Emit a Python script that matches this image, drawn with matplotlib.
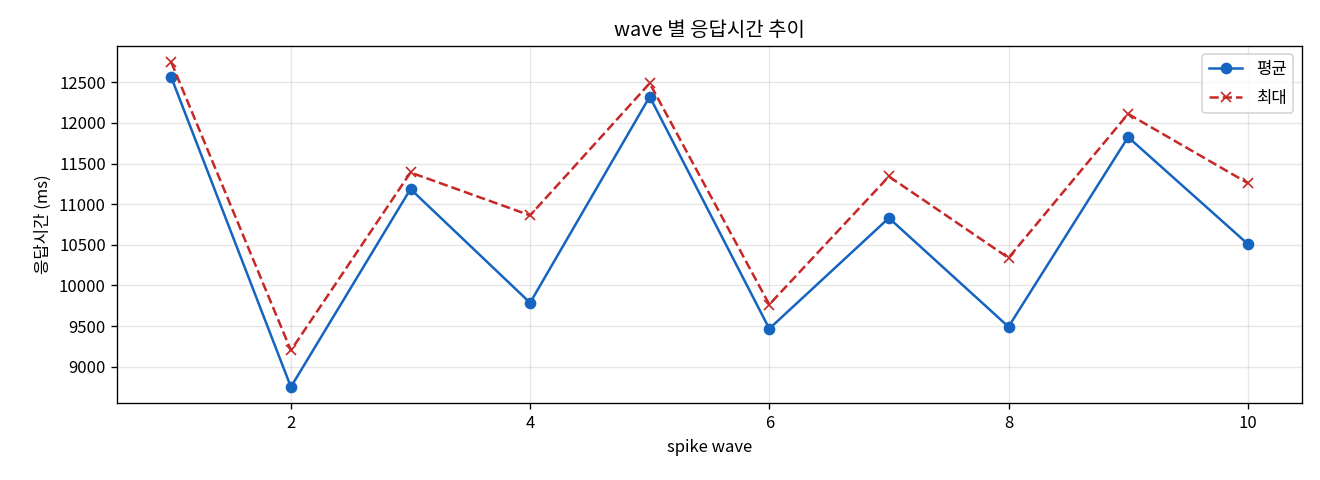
import matplotlib
matplotlib.use('Agg')
import matplotlib.pyplot as plt

plt.rcParams['font.family'] = ['Noto Sans CJK KR', 'DejaVu Sans']
plt.rcParams['axes.unicode_minus'] = False

# data
waves = [1, 2, 3, 4, 5, 6, 7, 8, 9, 10]
avg_ms = [12561, 8750, 11186, 9786, 12323, 9467, 10830, 9491, 11825, 10511]
max_ms = [12746, 9200, 11390, 10862, 12488, 9765, 11341, 10339, 12111, 11260]

fig, ax = plt.subplots(figsize=(11, 4), dpi=120)
ax.plot(waves, avg_ms, 'o-', color='#1565C0', label='평균')
ax.plot(waves, max_ms, 'x--', color='#C62828', label='최대')
ax.set_title('wave 별 응답시간 추이')
ax.set_xlabel('spike wave')
ax.set_ylabel('응답시간 (ms)')
ax.grid(True, alpha=0.3)
ax.legend(loc='upper right', labelspacing=0.7)
fig.subplots_adjust(left=0.089, right=0.986, top=0.904, bottom=0.160)
fig.savefig('out.png')
